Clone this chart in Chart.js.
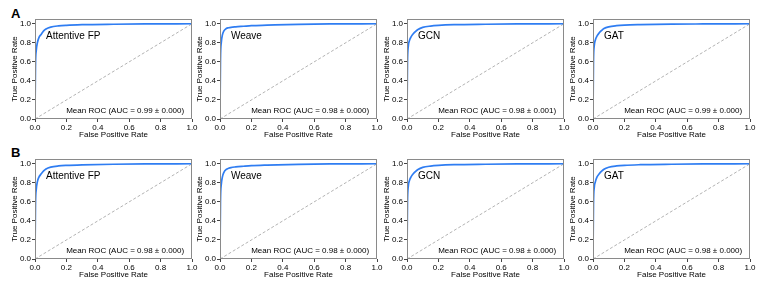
<!DOCTYPE html>
<html>
<head>
<meta charset="utf-8">
<script src="https://cdn.jsdelivr.net/npm/chart.js@4/dist/chart.umd.min.js"></script>
<style>
  body { margin: 0; background: #fff; }
  #wrap { position: relative; width: 761px; height: 286px; overflow: hidden; }
  canvas { position: absolute; }
  .tag { position: absolute; font: bold 13px 'Liberation Sans', Arial, sans-serif; color: #000; }
</style>
</head>
<body>
<div id="wrap">
  <div class="tag" style="left:11px; top:6px;">A</div>
  <div class="tag" style="left:11px; top:145px;">B</div>
</div>
<script>
// --- DATA ---
const models = ['Attentive FP', 'Weave', 'GCN', 'GAT'];
const aucRowA = ['0.99 ± 0.000', '0.98 ± 0.000', '0.98 ± 0.001', '0.99 ± 0.000'];
const aucRowB = ['0.98 ± 0.000', '0.98 ± 0.000', '0.98 ± 0.000', '0.98 ± 0.000'];

const fpr = [0, 0.003, 0.008, 0.015, 0.025, 0.04, 0.055, 0.07, 0.1, 0.15, 0.2, 0.3, 0.5, 0.7, 1.0];

const tprAttentiveA = [0, 0.55, 0.72, 0.80, 0.855, 0.89, 0.925, 0.945, 0.965, 0.978, 0.984, 0.99, 0.995, 0.998, 1.0];
const tprWeaveA     = [0, 0.62, 0.80, 0.88, 0.925, 0.95, 0.958, 0.963, 0.968, 0.974, 0.98, 0.985, 0.994, 0.998, 1.0];
const tprGcnA       = [0, 0.58, 0.76, 0.82, 0.86, 0.895, 0.92, 0.94, 0.962, 0.976, 0.983, 0.99, 0.995, 0.998, 1.0];
const tprGatA       = [0, 0.60, 0.77, 0.83, 0.87, 0.905, 0.93, 0.95, 0.968, 0.98, 0.986, 0.991, 0.996, 0.998, 1.0];

const tprAttentiveB = [0, 0.56, 0.73, 0.81, 0.86, 0.895, 0.925, 0.945, 0.964, 0.977, 0.983, 0.989, 0.995, 0.998, 1.0];
const tprWeaveB     = [0, 0.60, 0.78, 0.86, 0.91, 0.94, 0.952, 0.96, 0.967, 0.974, 0.98, 0.986, 0.994, 0.998, 1.0];
const tprGcnB       = [0, 0.58, 0.76, 0.82, 0.86, 0.895, 0.92, 0.94, 0.962, 0.976, 0.983, 0.99, 0.995, 0.998, 1.0];
const tprGatB       = [0, 0.57, 0.75, 0.81, 0.86, 0.895, 0.922, 0.943, 0.963, 0.977, 0.984, 0.99, 0.995, 0.998, 1.0];

const chanceLine = [0, 1];
const xTicks = [0, 0.2, 0.4, 0.6, 0.8, 1.0];
const yTicks = [0, 0.2, 0.4, 0.6, 0.8, 1.0];

const rowA = [tprAttentiveA, tprWeaveA, tprGcnA, tprGatA];
const rowB = [tprAttentiveB, tprWeaveB, tprGcnB, tprGatB];

// --- LAYOUT ---
const FONT = "'Liberation Sans', Arial, sans-serif";
const panelLefts = [35, 220, 407, 593];
const rowTops = [19, 159];
const PLOT_W = 157, PLOT_H = 100;
const Y_AXIS_W = 35, X_AXIS_H = 26, PAD_TOP = 8, PAD_RIGHT = 10;

// frame + in-plot labels
const panelText = {
  id: 'panelText',
  afterDatasetsDraw(chart, args, opts) {
    const { ctx, chartArea: a, scales } = chart;
    ctx.save();
    ctx.strokeStyle = '#8a8a8a';
    ctx.lineWidth = 1;
    ctx.strokeRect(a.left + 0.5, a.top + 0.5, a.width - 1, a.height - 1);
    ctx.fillStyle = '#000';
    ctx.textBaseline = 'middle';
    ctx.font = '10px ' + FONT;
    ctx.textAlign = 'left';
    ctx.fillText(opts.model, scales.x.getPixelForValue(0.07), scales.y.getPixelForValue(0.87));
    ctx.font = '8px ' + FONT;
    ctx.textAlign = 'right';
    ctx.fillText('Mean ROC (AUC = ' + opts.auc + ')', scales.x.getPixelForValue(0.95), scales.y.getPixelForValue(0.085));
    ctx.restore();
  }
};

function makePanel(row, col, tpr, auc) {
  const wrap = document.getElementById('wrap');
  const cv = document.createElement('canvas');
  const w = Y_AXIS_W + PLOT_W + PAD_RIGHT, h = PAD_TOP + PLOT_H + X_AXIS_H;
  cv.width = w; cv.height = h;
  cv.style.left = (panelLefts[col] - Y_AXIS_W) + 'px';
  cv.style.top = (rowTops[row] - PAD_TOP) + 'px';
  cv.style.width = w + 'px'; cv.style.height = h + 'px';
  wrap.appendChild(cv);

  const tick = { color: '#000', font: { family: FONT, size: 8 }, padding: 1, maxRotation: 0, autoSkip: false,
                 callback: v => Number(v).toFixed(1) };
  const grid = { drawOnChartArea: false, tickLength: 3, tickColor: '#444' };
  const title = txt => ({ display: true, text: txt, color: '#000', font: { family: FONT, size: 8 } });

  new Chart(cv.getContext('2d'), {
    type: 'line',
    data: {
      datasets: [{
        data: fpr.map((x, i) => ({ x: x, y: tpr[i] })),
        borderColor: '#2f7df2',
        borderWidth: 1.7,
        pointRadius: 0,
        cubicInterpolationMode: 'monotone',
        fill: false
      }, {
        data: chanceLine.map(v => ({ x: v, y: v })),
        borderColor: '#b3b3b3',
        borderWidth: 1,
        borderDash: [3, 2],
        pointRadius: 0,
        fill: false
      }]
    },
    options: {
      responsive: false,
      animation: false,
      devicePixelRatio: 1,
      layout: { padding: { top: PAD_TOP, right: PAD_RIGHT, left: 0, bottom: 0 } },
      plugins: {
        legend: { display: false },
        tooltip: { enabled: false },
        panelText: { model: models[col], auc: auc }
      },
      scales: {
        x: {
          type: 'linear', min: 0, max: 1,
          afterBuildTicks: s => { s.ticks = xTicks.map(v => ({ value: v })); },
          afterFit: s => { s.height = X_AXIS_H; },
          ticks: tick, grid: grid, border: { display: false },
          title: Object.assign(title('False Positive Rate'), { padding: { top: 0, bottom: 5 } })
        },
        y: {
          type: 'linear', min: 0, max: 1.05,
          afterBuildTicks: s => { s.ticks = yTicks.map(v => ({ value: v })); },
          afterFit: s => { s.width = Y_AXIS_W; },
          ticks: tick, grid: grid, border: { display: false },
          title: Object.assign(title('True Positive Rate'), { padding: { top: 10, bottom: 0 } })
        }
      }
    },
    plugins: [panelText]
  });
}

window.onload = function () {
  rowA.forEach((t, i) => makePanel(0, i, t, aucRowA[i]));
  rowB.forEach((t, i) => makePanel(1, i, t, aucRowB[i]));
};
</script>
</body>
</html>
